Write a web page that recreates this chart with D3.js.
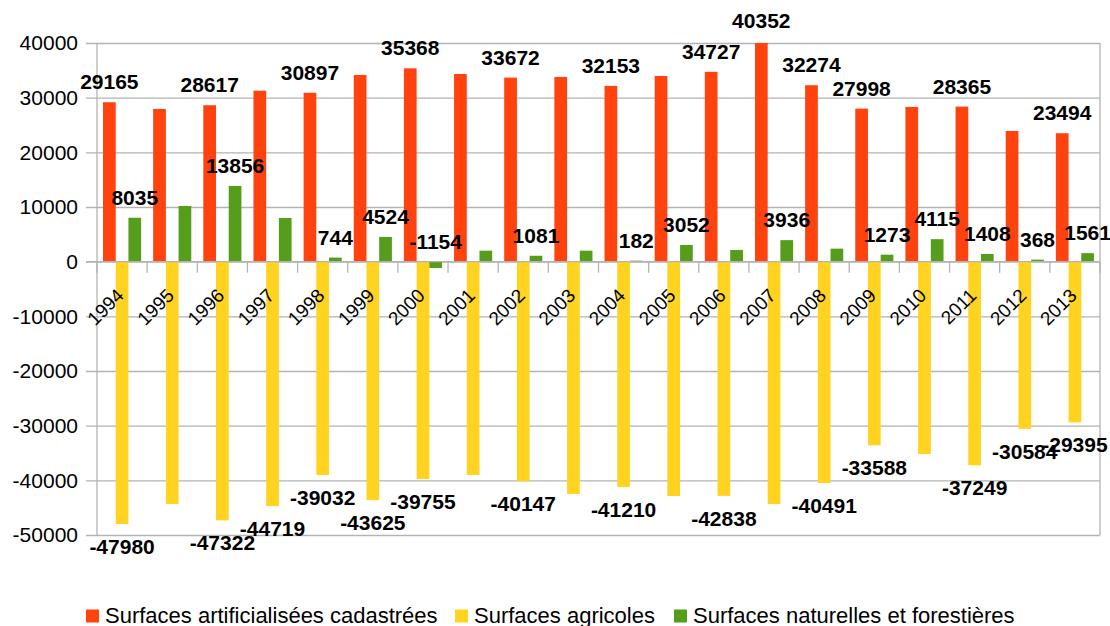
<!DOCTYPE html>
<html>
<head>
<meta charset="utf-8">
<script src="https://cdn.jsdelivr.net/npm/d3@7"></script>
<style>
  html, body { margin: 0; padding: 0; background: #ffffff; }
  svg { display: block; font-family: "Liberation Sans", Arial, sans-serif; }
</style>
</head>
<body>
<svg id="chart" width="1110" height="626"></svg>
<script>
const years = ["1994","1995","1996","1997","1998","1999","2000","2001","2002","2003",
               "2004","2005","2006","2007","2008","2009","2010","2011","2012","2013"];
const seriesNames = ["Surfaces artificialisées cadastrées", "Surfaces agricoles", "Surfaces naturelles et forestières"];
const seriesColors = ["#ff420e", "#ffd320", "#579d1c"];

const artificialisees = [29165, 27930, 28617, 31280, 30897, 34150, 35368, 34330, 33672, 33780,
                         32153, 33970, 34727, 40352, 32274, 27998, 28300, 28365, 23900, 23494];
const agricoles = [-47980, -44320, -47322, -44719, -39032, -43625, -39755, -39020, -40147, -42490,
                   -41210, -42860, -42838, -44320, -40491, -33588, -35180, -37249, -30584, -29395];
const naturelles = [8035, 10190, 13856, 7990, 744, 4524, -1154, 2010, 1081, 2010,
                    182, 3052, 2140, 3936, 2380, 1273, 4115, 1408, 368, 1561];

// which bars carry a visible value label (as in the reference)
const labelArtif = ["1994","1996","1998","2000","2002","2004","2006","2007","2008","2009","2011","2013"];
const labelAgri  = ["1994","1996","1997","1998","1999","2000","2002","2004","2006","2008","2009","2011","2012","2013"];
const labelNat   = ["1994","1996","1998","1999","2000","2002","2004","2005","2007","2009","2010","2011","2012","2013"];

const yTicks = [40000, 30000, 20000, 10000, 0, -10000, -20000, -30000, -40000, -50000];

const seriesValues = [artificialisees, agricoles, naturelles];
const seriesLabels = [labelArtif, labelAgri, labelNat];

const svg = d3.select("#chart");
const plot = { left: 97, right: 1100, top: 43, bottom: 535 };

const x = d3.scaleBand().domain(years).range([plot.left, plot.right]).padding(0);
const bw = x.bandwidth();
const xs = d3.scaleBand().domain(d3.range(3)).range([bw * 0.12, bw * 0.88]).padding(0);
const y = d3.scaleLinear().domain([-50000, 40000]).range([plot.bottom, plot.top]);

svg.append("defs").append("clipPath").attr("id", "plotclip")
  .append("rect").attr("x", plot.left).attr("y", plot.top)
  .attr("width", plot.right - plot.left).attr("height", plot.bottom - plot.top);

const gridColor = "#b3b3b3";

// y axis with gridlines
const yAxis = d3.axisLeft(y).tickValues(yTicks).tickFormat(d => String(d))
  .tickSize(-(plot.right - plot.left)).tickPadding(8);
const gy = svg.append("g").attr("transform", `translate(${plot.left},0)`).call(yAxis);
gy.select(".domain").remove();
gy.selectAll(".tick line").attr("stroke", gridColor).attr("stroke-width", 1.3)
  .attr("x1", -11);
gy.selectAll(".tick text").attr("font-size", 21).attr("fill", "#000")
  .attr("x", -19).attr("font-family", "Liberation Sans, Arial, sans-serif");

// frame: left and right vertical lines
svg.append("line").attr("x1", plot.left).attr("x2", plot.left)
  .attr("y1", plot.top).attr("y2", plot.bottom).attr("stroke", gridColor).attr("stroke-width", 1.3);
svg.append("line").attr("x1", plot.right).attr("x2", plot.right)
  .attr("y1", plot.top).attr("y2", plot.bottom).attr("stroke", gridColor).attr("stroke-width", 1.3);

// x axis ticks at zero line (category boundaries)
const boundaries = years.map(d => x(d)).concat([plot.right]);
svg.append("g").selectAll("line").data(boundaries).join("line")
  .attr("x1", d => d).attr("x2", d => d)
  .attr("y1", y(0)).attr("y2", y(0) + 11)
  .attr("stroke", gridColor).attr("stroke-width", 1.3);

// bars
const barsG = svg.append("g").attr("clip-path", "url(#plotclip)");
seriesValues.forEach((vals, si) => {
  barsG.append("g").selectAll("rect").data(years).join("rect")
    .attr("x", (d) => x(d) + xs(si))
    .attr("width", xs.bandwidth())
    .attr("y", (d, i) => Math.min(y(vals[i]), y(0)))
    .attr("height", (d, i) => Math.abs(y(vals[i]) - y(0)))
    .attr("fill", seriesColors[si]);
});

// zero axis line
svg.append("line").attr("x1", plot.left - 11).attr("x2", plot.right)
  .attr("y1", y(0)).attr("y2", y(0)).attr("stroke", gridColor).attr("stroke-width", 1.3);

// year labels rotated
svg.append("g").selectAll("text").data(years).join("text")
  .attr("transform", d => `translate(${x(d) + bw / 2 + 3},${y(0) + 35}) rotate(-45)`)
  .attr("text-anchor", "end")
  .attr("font-size", 19)
  .attr("fill", "#000")
  .text(d => d);

// value labels
seriesValues.forEach((vals, si) => {
  const show = seriesLabels[si];
  const data = years.map((yr, i) => ({ yr, v: vals[i] })).filter(d => show.includes(d.yr));
  svg.append("g").selectAll("text").data(data).join("text")
    .attr("x", d => x(d.yr) + xs(si) + xs.bandwidth() / 2)
    .attr("y", d => si === 1 ? y(d.v) + 22.5 : Math.min(y(d.v), y(0)) - 20.5)
    .attr("dy", "0.36em")
    .attr("text-anchor", "middle")
    .attr("font-size", 21)
    .attr("font-weight", "bold")
    .attr("fill", "#000")
    .text(d => String(d.v));
});

// legend
const legendX = [86, 455, 674];
const legend = svg.append("g");
seriesNames.forEach((name, i) => {
  legend.append("rect").attr("x", legendX[i]).attr("y", 609.5)
    .attr("width", 13).attr("height", 13).attr("fill", seriesColors[i]);
  legend.append("text").attr("x", legendX[i] + 19).attr("y", 623)
    .attr("font-size", 22).attr("fill", "#000").text(name);
});
</script>
</body>
</html>
